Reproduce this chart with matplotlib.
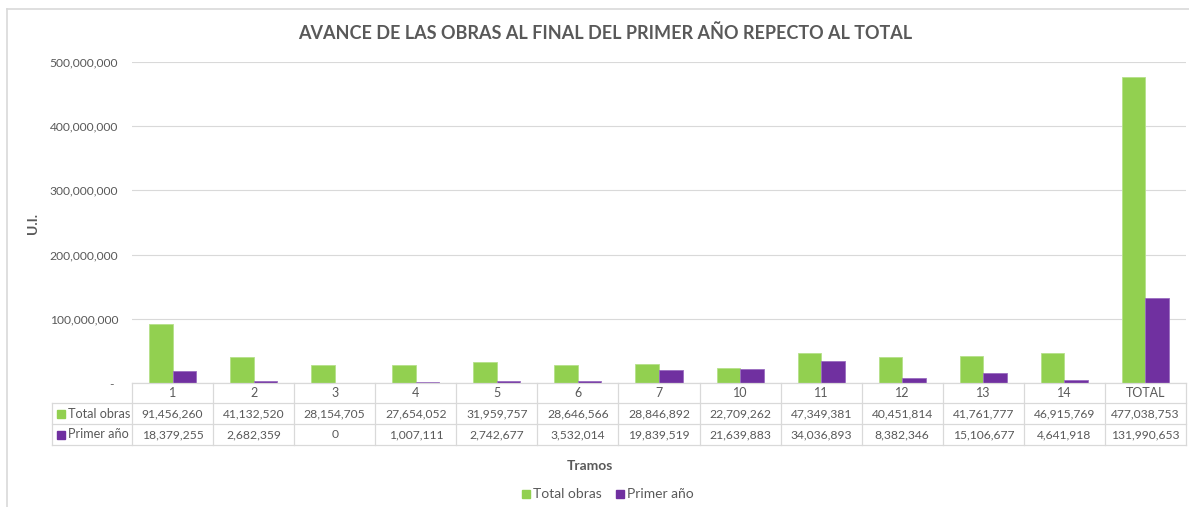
import matplotlib
matplotlib.use('Agg')
import matplotlib.pyplot as plt
import matplotlib.ticker as mticker
from matplotlib.patches import Rectangle
from matplotlib.lines import Line2D
import numpy as np

plt.rcParams['font.family'] = ['Lato', 'DejaVu Sans']

tramos = ['1', '2', '3', '4', '5', '6', '7', '10', '11', '12', '13', '14', 'TOTAL']
total_obras = [91456260, 41132520, 28154705, 27654052, 31959757, 28646566, 28846892,
               22709262, 47349381, 40451814, 41761777, 46915769, 477038753]
primer_anio = [18379255, 2682359, 0, 1007111, 2742677, 3532014, 19839519,
               21639883, 34036893, 8382346, 15106677, 4641918, 131990653]
series_names = ['Total obras', 'Primer año']
series_colors = ['#92D050', '#7030A0']

W, H = 1189, 507
txt = '#595959'
grid_c = '#D9D9D9'
num_fs = 8.7

fig = plt.figure(figsize=(W / 100, H / 100), dpi=100)

def fx(px):
    return px / W

def fy(py):
    return 1 - py / H

# plot area
left, right, top, bottom = 132, 1186, 62, 383
ax = fig.add_axes([fx(left), fy(bottom), fx(right - left), (bottom - top) / H])
n = len(tramos)
x = np.arange(n)
bw = 0.29
ax.bar(x - bw / 2, total_obras, bw, color=series_colors[0], edgecolor='#B5E08A', linewidth=0.6)
ax.bar(x + bw / 2, primer_anio, bw, color=series_colors[1], edgecolor='#9A6CC0', linewidth=0.6)
ax.set_xlim(-0.5, n - 0.5)
ax.set_ylim(0, 500000000)
ax.yaxis.set_major_locator(mticker.MultipleLocator(100000000))
ax.yaxis.set_major_formatter(mticker.FuncFormatter(lambda v, p: '- ' if v == 0 else '{:,.0f}'.format(v)))
ax.grid(axis='y', color=grid_c, linewidth=0.8)
ax.set_axisbelow(True)
for s in ax.spines.values():
    s.set_visible(False)
ax.tick_params(axis='y', length=0, pad=10, labelsize=num_fs, labelcolor=txt)
ax.tick_params(axis='x', length=0, labelbottom=False)

# data table below the plot
tleft = 52
colw = (right - left) / n
rows = [383, 403, 424, 445]
for yy in rows:
    x0 = left if yy == rows[0] else tleft
    fig.add_artist(Line2D([fx(x0), fx(right)], [fy(yy), fy(yy)], color=grid_c, lw=0.9))
fig.add_artist(Line2D([fx(tleft), fx(tleft)], [fy(rows[1]), fy(rows[3])], color=grid_c, lw=0.9))
for i in range(n + 1):
    xx = left + i * colw
    fig.add_artist(Line2D([fx(xx), fx(xx)], [fy(rows[0]), fy(rows[3])], color=grid_c, lw=0.9))

for i, name in enumerate(tramos):
    cx = left + (i + 0.5) * colw
    fig.text(fx(cx), fy((rows[0] + rows[1]) / 2), name, ha='center', va='center',
             fontsize=9, color=txt)
    for r, vals in enumerate([total_obras, primer_anio]):
        fig.text(fx(cx), fy((rows[r + 1] + rows[r + 2]) / 2), '{:,.0f}'.format(vals[i]),
                 ha='center', va='center', fontsize=num_fs, color=txt)

for r, name in enumerate(series_names):
    cy = (rows[r + 1] + rows[r + 2]) / 2
    fig.add_artist(Rectangle((fx(57), fy(cy + 4)), fx(8), 8 / H, color=series_colors[r]))
    fig.text(fx(68), fy(cy), name, ha='left', va='center', fontsize=9.1, color=txt)

# titles
fig.text(fx(605), fy(33), 'AVANCE DE LAS OBRAS AL FINAL DEL PRIMER AÑO REPECTO AL TOTAL',
         ha='center', va='center', fontsize=13, fontweight='bold', color=txt)
fig.text(fx(33), fy(223), 'U.I.', ha='center', va='center', rotation=90,
         fontsize=10, fontweight='bold', color=txt)
fig.text(fx(590), fy(466), 'Tramos', ha='center', va='center',
         fontsize=10, fontweight='bold', color=txt)

# legend
lx = 522
for name, c, off in zip(series_names, series_colors, [0, 94]):
    fig.add_artist(Rectangle((fx(lx + off), fy(498)), fx(8), 8 / H, color=c))
    fig.text(fx(lx + off + 11), fy(494), name, ha='left', va='center', fontsize=10, color=txt)

# chart frame
fig.add_artist(Line2D([fx(7), fx(7)], [fy(9), 0], color=grid_c, lw=1.2))
fig.add_artist(Line2D([fx(7), 1], [fy(9), fy(9)], color=grid_c, lw=1.2))

fig.savefig('out.png', dpi=100)
